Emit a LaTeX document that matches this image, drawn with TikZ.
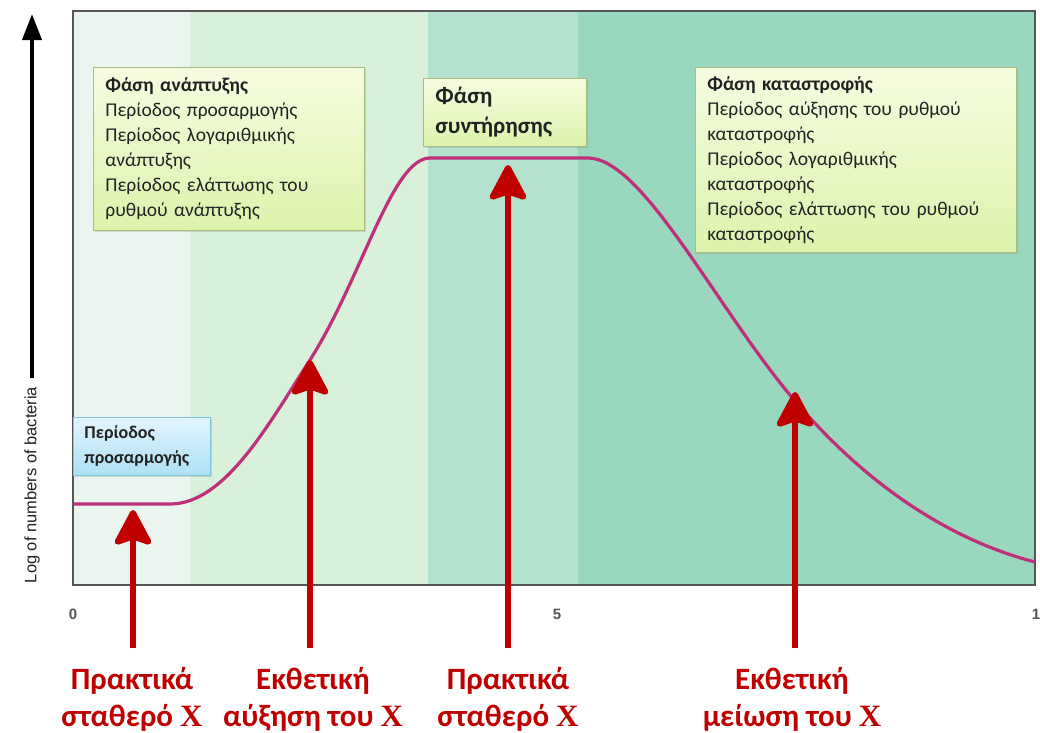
\documentclass[tikz,border=0pt]{standalone}
\usepackage{fontspec}
\setmainfont{Carlito}
\newfontfamily\arialf{Liberation Sans}
\newfontfamily\serifx{Liberation Serif}
\usetikzlibrary{arrows.meta,shadows}
\definecolor{bandA}{HTML}{E9F5EE}
\definecolor{bandB}{HTML}{D9F0DA}
\definecolor{bandC}{HTML}{B4E1CD}
\definecolor{bandD}{HTML}{99D8BF}
\definecolor{curvec}{HTML}{BE3079}
\definecolor{arrred}{HTML}{C00000}
\definecolor{boxtop}{HTML}{F6FCE0}
\definecolor{boxbot}{HTML}{DCF3AC}
\definecolor{boxline}{HTML}{A9BE7E}
\definecolor{bluetop}{HTML}{E2F5FC}
\definecolor{bluebot}{HTML}{ADE0F4}
\definecolor{blueline}{HTML}{7FC4DF}
\definecolor{frame}{HTML}{555555}
\definecolor{txt}{HTML}{222222}
\tikzset{
  notebox/.style={draw=boxline, line width=0.8pt, top color=boxtop, bottom color=boxbot,
    drop shadow={opacity=0.25, shadow xshift=2pt, shadow yshift=-2pt},
    anchor=north west, align=left, inner xsep=12pt, inner ysep=2pt, text=txt},
  bluebox/.style={draw=blueline, line width=0.8pt, top color=bluetop, bottom color=bluebot,
    drop shadow={opacity=0.25, shadow xshift=2pt, shadow yshift=-2pt},
    anchor=north west, align=left, inner xsep=11pt, inner ysep=2pt, text=txt},
  redarrow/.style={draw=arrred, line width=6pt,
    -{Stealth[width=42pt,length=40pt,inset=7pt,round]}},
  redlabel/.style={text=arrred, align=center, font=\fontsize{31}{37}\selectfont\bfseries},
  tick/.style={text=frame, font=\arialf\bfseries\fontsize{15}{17}\selectfont}
}
\begin{document}
\begin{tikzpicture}[x=1pt,y=-1pt]
\useasboundingbox (0,0) rectangle (1040,732);
\fill[white] (0,0) rectangle (1040,732);
% bands
\fill[bandA] (73,11) rectangle (190,585);
\fill[bandB] (190,11) rectangle (428,585);
\fill[bandC] (428,11) rectangle (578,585);
\fill[bandD] (578,11) rectangle (1035,585);
\draw[frame, line width=1.8pt] (73,11) rectangle (1035,585);
% curve
\draw[curvec, line width=3.2pt, line join=round]
  (73,504) -- (170,504) .. controls (225,504) and (268,425) .. (310,360)
  .. controls (362,278) and (392,158) .. (430,158) -- (588,158)
  .. controls (642,158) and (715,305) .. (790,395)
  .. controls (865,485) and (950,540) .. (1035,562);
% y axis
\coordinate (ybot) at (32,378);
\coordinate (ytop) at (32,14);
\draw[black, line width=4pt, -{Triangle[width=19pt,length=26pt]}] (ybot) -- (ytop);
\node[rotate=90, font=\arialf\fontsize{16.5}{18}\selectfont, text=txt] (ylab) at (32,485) {Log of numbers of bacteria};
% ticks
\node[tick] (t0) at (73,614) {0};
\node[tick] (t5) at (557,614) {5};
\node[tick] (t10) at (1036,614) {1};
% boxes
\node[notebox, text width=247pt, minimum height=163pt, font=\fontsize{19.5}{25}\selectfont] (box1) at (93,67)
  {\textbf{Φάση ανάπτυξης}\\Περίοδος προσαρμογής\\Περίοδος λογαριθμικής\\ανάπτυξης\\Περίοδος ελάττωσης του\\ρυθμού ανάπτυξης};
\node[notebox, text width=139pt, minimum height=68pt, font=\fontsize{23}{30}\selectfont\bfseries] (box2) at (423,78)
  {Φάση\\συντήρησης};
\node[notebox, text width=297pt, minimum height=185pt, font=\fontsize{19.5}{25}\selectfont] (box3) at (695,67)
  {\textbf{Φάση καταστροφής}\\Περίοδος αύξησης του ρυθμού\\καταστροφής\\Περίοδος λογαριθμικής\\καταστροφής\\Περίοδος ελάττωσης του ρυθμού\\καταστροφής};
\node[bluebox, text width=115pt, minimum height=58pt, font=\fontsize{18}{25}\selectfont\bfseries] (box4) at (73,417)
  {Περίοδος\\προσαρμογής};
% red arrows
\coordinate (p1) at (133,510);
\coordinate (p2) at (310,360);
\coordinate (p3) at (508,165);
\coordinate (p4) at (795,392);
\coordinate (b1) at (133,648);
\coordinate (b2) at (310,648);
\coordinate (b3) at (508,648);
\coordinate (b4) at (795,648);
\draw[redarrow] (b1) -- (p1);
\draw[redarrow] (b2) -- (p2);
\draw[redarrow] (b3) -- (p3);
\draw[redarrow] (b4) -- (p4);
% labels
\node[redlabel] (l1) at (132,699) {Πρακτικά\\σταθερό {\serifx X}};
\node[redlabel] (l2) at (313,699) {Εκθετική\\αύξηση του {\serifx X}};
\node[redlabel] (l3) at (508,699) {Πρακτικά\\σταθερό {\serifx X}};
\node[redlabel] (l4) at (792,699) {Εκθετική\\μείωση του {\serifx X}};
\end{tikzpicture}
\end{document}
